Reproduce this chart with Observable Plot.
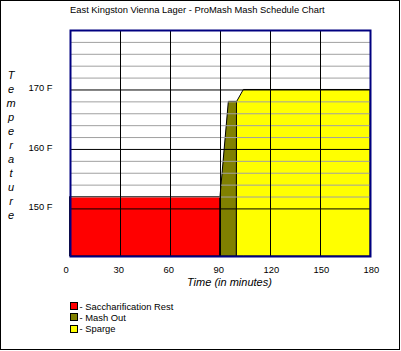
<!DOCTYPE html>
<html>
<head>
<meta charset="utf-8">
<script src="https://cdn.jsdelivr.net/npm/d3@7"></script>
<script src="https://cdn.jsdelivr.net/npm/@observablehq/plot@0.6"></script>
<style>
  html, body { margin: 0; padding: 0; background: #fff; }
  #wrap { position: relative; width: 401px; height: 351px; overflow: hidden; font-family: "Liberation Sans", Arial, sans-serif; color: #000; }
  #wrap svg { position: absolute; left: 0; top: 0; }
  #border { position: absolute; left: 0; top: 0; width: 400px; height: 350px; box-sizing: border-box; border: 1px solid #000; pointer-events: none; }
  .t { position: absolute; white-space: nowrap; }
  #title { left: 70px; top: 5.3px; font-size: 9.4px; line-height: 9.4px; }
  #ytitle { left: 5px; top: 68px; width: 12px; text-align: center; font-style: italic; font-size: 11px; line-height: 14px; }
  #xtitle { left: 187px; top: 276px; font-style: italic; font-size: 11px; line-height: 12px; }
  #legend { left: 70px; top: 300.4px; font-size: 9.4px; }
  .row { display: flex; align-items: center; height: 11.3px; }
  .sw { width: 8px; height: 8px; box-sizing: border-box; border: 1px solid #000; margin-right: 1.5px; }
</style>
</head>
<body>
<div id="wrap">
  <div id="chart"></div>
  <div class="t" id="title"></div>
  <div class="t" id="ytitle"></div>
  <div class="t" id="xtitle"></div>
  <div class="t" id="legend"></div>
  <div id="border"></div>
</div>
<script>
// ---- data ----
const titleText = "East Kingston Vienna Lager - ProMash Mash Schedule Chart";
const yTitle = "Temperature";
const xTitle = "Time (in minutes)";
const steps = ["Saccharification Rest", "Mash Out", "Sparge"];
const stepColors = ["#ff0000", "#808000", "#ffff00"];
// temperature profile (minutes, °F) for each step
const restTime = [0, 90];
const restTemp = [152, 152];
const mashOutTime = [90, 95, 100];
const mashOutTemp = [152, 168, 168];
const spargeTime = [100, 104, 180];
const spargeTemp = [168, 170, 170];
const xTicks = [0, 30, 60, 90, 120, 150, 180];
const yTicks = [150, 160, 170];
const yMinor = [152, 154, 156, 158, 162, 164, 166, 168, 172, 174, 176, 178];
const xDomain = [0, 180];
const yDomain = [142, 180];

// ---- build table ----
const segs = [[restTime, restTemp], [mashOutTime, mashOutTemp], [spargeTime, spargeTemp]];
const areaData = [];
segs.forEach(([ts, vs], i) => ts.forEach((t, j) => areaData.push({step: steps[i], t, temp: vs[j]})));

const chart = Plot.plot({
  width: 401,
  height: 351,
  marginLeft: 70,
  marginRight: 31,
  marginTop: 30,
  marginBottom: 95,
  style: {fontFamily: "'Liberation Sans', Arial, sans-serif", fontSize: "9.4px", background: "transparent", color: "#000"},
  x: {domain: xDomain},
  y: {domain: yDomain},
  color: {domain: steps, range: stepColors},
  marks: [
    Plot.areaY(areaData, {x: "t", y1: yDomain[0], y2: "temp", z: "step", fill: "step", fillOpacity: 1, stroke: "#000", strokeWidth: 1}),
    Plot.ruleY(yMinor, {stroke: "#a0a0a0", strokeWidth: 1}),
    Plot.ruleX(xTicks.slice(1, -1), {stroke: "#000", strokeWidth: 1}),
    Plot.ruleY(yTicks, {stroke: "#000", strokeWidth: 1}),
    Plot.frame({stroke: "#000080", strokeWidth: 2}),
    Plot.axisX({ticks: xTicks, tickSize: 0, tickPadding: 10, textAnchor: "start", dx: -7, label: null, fill: "#000"}),
    Plot.axisY({ticks: yTicks, tickSize: 0, tickPadding: 18, tickFormat: d => d + " F", dy: -1.5, label: null, fill: "#000"})
  ]
});
document.getElementById("chart").appendChild(chart);

document.getElementById("title").textContent = titleText;
document.getElementById("xtitle").textContent = xTitle;
const yt = document.getElementById("ytitle");
yt.innerHTML = yTitle.split("").map(c => `<div>${c}</div>`).join("");
const lg = document.getElementById("legend");
steps.forEach((s, i) => {
  const row = document.createElement("div");
  row.className = "row";
  const sw = document.createElement("div");
  sw.className = "sw";
  sw.style.background = stepColors[i];
  const tx = document.createElement("span");
  tx.textContent = "- " + s;
  row.appendChild(sw);
  row.appendChild(tx);
  lg.appendChild(row);
});
</script>
</body>
</html>
